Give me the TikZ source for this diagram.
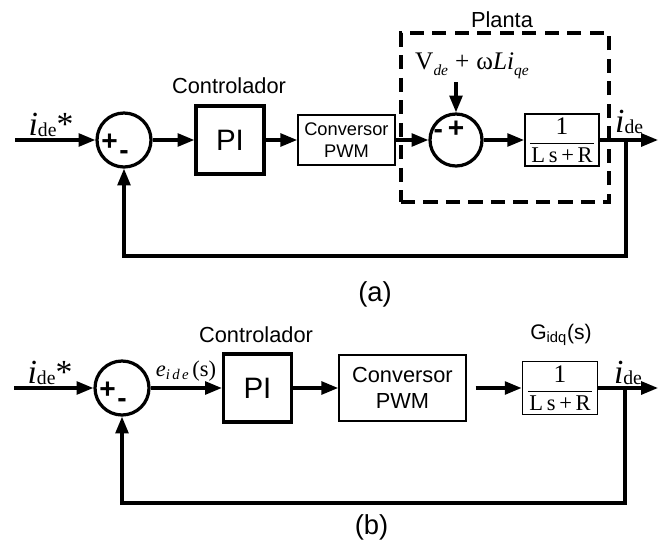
\documentclass[tikz,border=0pt]{standalone}
\usepackage{fontspec}
\setmainfont{Liberation Sans}
\newfontfamily\tnr{Liberation Serif}
\usetikzlibrary{arrows.meta}
\newcommand{\fsz}[1]{\fontsize{#1}{#1}\selectfont}
\newcommand{\ide}{{\tnr\fsz{24}\itshape i}{\tnr\fsz{14}\raisebox{-0.2ex}{de}}}
\newcommand{\plantfrac}{$\displaystyle\frac{\hbox{\tnr\fsz{18}1}}{\hbox{\tnr\fsz{16}\kern1pt L\,s\,+\,R\kern1pt}}$}
\begin{document}
\begin{tikzpicture}[
    font=\fsz{15.5},
    lbl/.style={inner sep=0pt},
    pinode/.style={draw, line width=2.3pt, minimum width=1.7cm, minimum height=1.7cm, inner sep=0pt, font=\fsz{21}},
    convnode/.style={draw, line width=1pt, align=center, inner sep=0pt},
    tfnode/.style={draw, line width=1.3pt, inner sep=0pt, minimum width=1.85cm, minimum height=1.3cm},
    sumnode/.style={circle, draw, line width=2.3pt, minimum size=1.35cm, inner sep=0pt},
    sgn/.style={inner sep=0pt, font=\bfseries\fsz{20}},
    plantbox/.style={draw, line width=2.3pt, dash pattern=on 10pt off 6pt, minimum width=5.2cm, minimum height=4.225cm},
    sig/.style={line width=2.3pt, -{Triangle[length=0.42cm, width=0.32cm]}}
]
\useasboundingbox (0,0) rectangle (16.475,-13.625);
\node[plantbox] (plantA) at (12.625,-2.9375) {};
\node[lbl] (plantlbl) at (12.55,-0.5) {Planta};
\coordinate (inA) at (0.375,-3.5);
\node[lbl] (refA) at (1.275,-3.125) {\ide{\tnr\fsz{24}*}};
\node[sumnode] (sA) at (3.1,-3.5) {};
\node[sgn] (sAp) at ([shift={(-0.36,-0.05)}]sA.center) {+};
\node[sgn] (sAm) at ([shift={(0,-0.38)}]sA.center) {-};
\node[pinode] (piA) at (5.75,-3.5) {PI};
\node[lbl] (ctlA) at (5.725,-2.15) {Controlador};
\node[convnode, minimum width=2.425cm, minimum height=1.25cm, font=\fontsize{13}{16}\selectfont] (convA) at (8.66,-3.5) {Conversor\\PWM};
\node[sumnode, minimum size=1.3cm] (s2A) at (11.4,-3.5) {};
\node[sgn] (s2Am) at ([shift={(-0.44,0.14)}]s2A.center) {-};
\node[sgn] (s2Ap) at ([shift={(0,0.26)}]s2A.center) {+};
\node[lbl] (distA) at (11.8,-1.65)
  {\tnr\fsz{18}V\raisebox{-0.5ex}{\fsz{11}\itshape de}\;+\;ω\textit{Li}\raisebox{-0.5ex}{\fsz{11}\itshape qe}};
\node[tfnode] (tfA) at (14.05,-3.5) {\plantfrac};
\node[lbl] (yA) at (15.73,-3.05) {\ide};
\coordinate (brA) at (15.65,-3.5);
\coordinate (botA) at (15.65,-6.4);
\coordinate (outA) at (16.45,-3.5);
\draw[sig] (inA) -- (sA.west);
\draw[sig] (sA.east) -- (piA.west);
\draw[sig] (piA.east) -- (convA.west);
\draw[sig] (convA.east) -- (s2A.west);
\draw[sig] ([yshift=-2pt]distA.south -| s2A.north) -- (s2A.north);
\draw[sig] (s2A.east) -- (tfA.west);
\draw[sig] (tfA.east) -- (outA);
\draw[sig] (brA) -- (botA) -| (sA.south);
\node[lbl, font=\fsz{19.5}] (capA) at (9.375,-7.36) {(a)};
\coordinate (inB) at (0.35,-9.7);
\node[lbl] (refB) at (1.25,-9.325) {\ide{\tnr\fsz{24}*}};
\node[sumnode] (sB) at (3.05,-9.7) {};
\node[sgn] (sBp) at ([shift={(-0.36,-0.05)}]sB.center) {+};
\node[sgn] (sBm) at ([shift={(0,-0.38)}]sB.center) {-};
\node[lbl] (errB) at (4.65,-9.275)
  {{\tnr\fsz{16}\itshape e}{\tnr\fsz{10.5}\itshape\raisebox{-0.5ex}{i\,d\,e}}\,{\tnr\fsz{16}(s)}};
\node[pinode] (piB) at (6.4375,-9.7) {PI};
\node[lbl] (ctlB) at (6.4,-8.375) {Controlador};
\node[convnode, minimum width=3.175cm, minimum height=1.65cm, font=\fontsize{15.5}{18}\selectfont] (convB) at (10.06,-9.7) {Conversor\\PWM};
\node[tfnode, minimum width=1.875cm, minimum height=1.325cm] (tfB) at (14.0,-9.7) {\plantfrac};
\node[lbl, font=\fsz{15}] (gB) at (14.025,-8.375) {G\textsubscript{idq}(s)};
\node[lbl] (yB) at (15.7,-9.325) {\ide};
\coordinate (brB) at (15.625,-9.7);
\coordinate (botB) at (15.625,-12.575);
\coordinate (outB) at (16.45,-9.7);
\draw[sig] (inB) -- (sB.west);
\draw[sig] (sB.east) -- (piB.west);
\draw[sig] (piB.east) -- (convB.west);
\draw[sig] ([xshift=0.225cm]convB.east) -- (tfB.west);
\draw[sig] (tfB.east) -- (outB);
\draw[sig] (brB) -- (botB) -| (sB.south);
\node[lbl, font=\fsz{19.5}] (capB) at (9.29,-13.19) {(b)};
\end{tikzpicture}
\end{document}
